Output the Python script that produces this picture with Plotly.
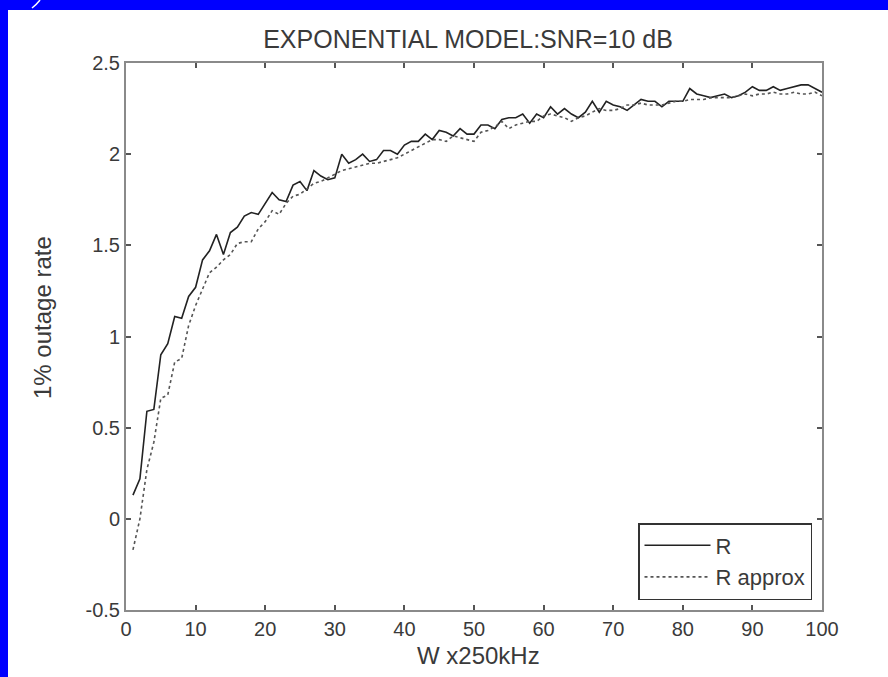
import plotly.graph_objects as go

W = list(range(1, 101))
R = [0.13, 0.22, 0.59, 0.60, 0.90, 0.96, 1.11, 1.10, 1.22, 1.27,
     1.42, 1.47, 1.56, 1.45, 1.57, 1.60, 1.66, 1.68, 1.67, 1.73,
     1.79, 1.75, 1.74, 1.83, 1.85, 1.80, 1.91, 1.88, 1.86, 1.87,
     2.00, 1.95, 1.97, 2.00, 1.96, 1.97, 2.02, 2.02, 2.00, 2.05,
     2.07, 2.07, 2.11, 2.08, 2.13, 2.12, 2.10, 2.14, 2.11, 2.11,
     2.16, 2.16, 2.14, 2.19, 2.20, 2.20, 2.22, 2.17, 2.22, 2.20,
     2.26, 2.22, 2.25, 2.22, 2.20, 2.23, 2.29, 2.23, 2.29, 2.27,
     2.26, 2.24, 2.27, 2.30, 2.29, 2.29, 2.26, 2.29, 2.29, 2.29,
     2.36, 2.33, 2.32, 2.31, 2.32, 2.33, 2.31, 2.32, 2.34, 2.37,
     2.35, 2.35, 2.37, 2.35, 2.36, 2.37, 2.38, 2.38, 2.36, 2.34]
R_approx = [-0.17, 0.00, 0.27, 0.42, 0.66, 0.68, 0.86, 0.88, 1.06, 1.17,
            1.26, 1.35, 1.38, 1.42, 1.45, 1.51, 1.52, 1.52, 1.59, 1.63,
            1.69, 1.67, 1.73, 1.77, 1.78, 1.81, 1.84, 1.85, 1.87, 1.89,
            1.91, 1.92, 1.93, 1.94, 1.95, 1.95, 1.96, 1.97, 1.98, 2.00,
            2.02, 2.04, 2.06, 2.08, 2.08, 2.07, 2.10, 2.09, 2.08, 2.07,
            2.12, 2.13, 2.15, 2.18, 2.14, 2.16, 2.17, 2.18, 2.18, 2.21,
            2.22, 2.21, 2.20, 2.18, 2.20, 2.21, 2.23, 2.25, 2.24, 2.24,
            2.25, 2.27, 2.27, 2.28, 2.27, 2.27, 2.27, 2.28, 2.29, 2.29,
            2.30, 2.30, 2.30, 2.31, 2.31, 2.31, 2.31, 2.32, 2.33, 2.32,
            2.33, 2.33, 2.34, 2.33, 2.33, 2.34, 2.33, 2.33, 2.34, 2.32]

x_ticks = [0, 10, 20, 30, 40, 50, 60, 70, 80, 90, 100]
y_ticks = [-0.5, 0, 0.5, 1, 1.5, 2, 2.5]
y_tick_labels = ["-0.5", "0", "0.5", "1", "1.5", "2", "2.5"]

FONT = "Liberation Sans, Arial, sans-serif"
TXT = "#3a3a3a"
AX = "#8a8a8a"
BLUE = "#0000ff"

FW, FH = 888, 677
L, T = 126, 63
Rm, B = FW - 822, FH - 610
PW, PH = FW - L - Rm, FH - T - B

def px_x(p):
    """page x pixel -> paper fraction"""
    return (p - L) / PW

def px_y(p):
    """page y pixel -> paper fraction"""
    return (FH - B - p) / PH

fig = go.Figure()
fig.add_trace(go.Scatter(x=W, y=R, mode="lines", name="R",
                         line=dict(color="#222222", width=1.6)))
fig.add_trace(go.Scatter(x=W, y=R_approx, mode="lines", name="R approx",
                         line=dict(color="#555555", width=1.6, dash="dot")))

# blue slide frame: top band 0-10 px, left band 0-8 px
fig.add_shape(type="rect", xref="paper", yref="paper",
              x0=px_x(-2), x1=px_x(FW + 2), y0=px_y(10), y1=px_y(-2),
              fillcolor=BLUE, line=dict(width=0), layer="below")
fig.add_shape(type="rect", xref="paper", yref="paper",
              x0=px_x(-2), x1=px_x(8), y0=px_y(FH + 2), y1=px_y(-2),
              fillcolor=BLUE, line=dict(width=0), layer="below")
# small white stroke in the top-left corner of the frame
fig.add_shape(type="path", xref="paper", yref="paper",
              path=f"M {px_x(32)} {px_y(8)} Q {px_x(37)} {px_y(4)} {px_x(40)} {px_y(0)}",
              line=dict(color="white", width=1.5))

axis_common = dict(showgrid=False, zeroline=False, showline=True, linecolor=AX,
                   linewidth=2, mirror="ticks", ticks="inside", ticklen=5,
                   tickcolor="#555555", tickwidth=1.5,
                   tickfont=dict(family=FONT, size=20, color=TXT))

fig.update_layout(
    width=FW, height=FH,
    paper_bgcolor="white", plot_bgcolor="white",
    margin=dict(l=L, r=Rm, t=T, b=B, pad=0),
    title=dict(text="EXPONENTIAL MODEL:SNR=10 dB", x=px_x(468), xanchor="center",
               xref="paper", y=1 - 39 / FH, yanchor="middle",
               font=dict(family=FONT, size=25, color=TXT)),
    xaxis=dict(range=[0, 100], tickvals=x_ticks, **axis_common),
    yaxis=dict(range=[-0.5, 2.5], tickvals=y_ticks, ticktext=y_tick_labels,
               **axis_common),
    legend=dict(x=px_x(812), y=px_y(600), xanchor="right", yanchor="bottom",
                bgcolor="white", bordercolor="#333333", borderwidth=1.5,
                font=dict(family=FONT, size=22, color=TXT),
                itemwidth=66, tracegroupgap=0),
    showlegend=True,
    annotations=[
        dict(text="W x250kHz", xref="paper", yref="paper",
             x=px_x(478), y=px_y(655), xanchor="center", yanchor="middle",
             showarrow=False, font=dict(family=FONT, size=24, color=TXT)),
        dict(text="1% outage rate", xref="paper", yref="paper", textangle=-90,
             x=px_x(42), y=px_y(318), xanchor="center", yanchor="middle",
             showarrow=False, font=dict(family=FONT, size=24, color=TXT)),
    ],
)

fig.write_html(
    "out.html",
    config={"displayModeBar": False},
    post_script="document.body.style.margin='0';"
                "document.body.style.overflow='hidden';"
                "document.body.style.background='white';",
)
